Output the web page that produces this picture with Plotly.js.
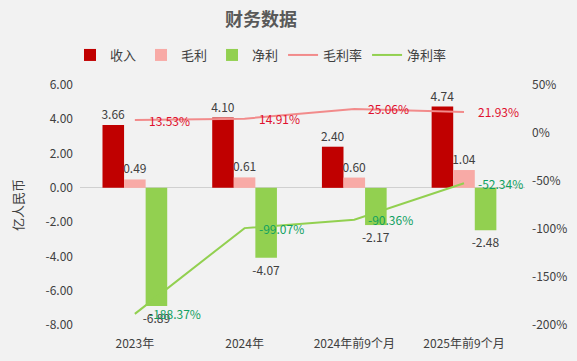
<!DOCTYPE html>
<html>
<head>
<meta charset="utf-8">
<script src="https://cdn.plot.ly/plotly-3.0.1.min.js"></script>
<style>
html,body{margin:0;padding:0;background:#f2f2f2;}
#chart{width:577px;height:361px;}
</style>
</head>
<body>
<div id="chart"></div>
<script>
const categories = ['2023年', '2024年', '2024年前9个月', '2025年前9个月'];
const revenue = [3.66, 4.10, 2.40, 4.74];
const grossProfit = [0.49, 0.61, 0.60, 1.04];
const netProfit = [-6.89, -4.07, -2.17, -2.48];
const grossMargin = [13.53, 14.91, 25.06, 21.93];
const netMargin = [-188.37, -99.07, -90.36, -52.34];
const leftTicks = [-8, -6, -4, -2, 0, 2, 4, 6];
const rightTicks = [-200, -150, -100, -50, 0, 50];

const FONT = '"Noto Sans CJK SC", "DejaVu Sans", sans-serif';
const fmt2 = v => v.toFixed(2);
const barText = {size: 12, color: '#404040', family: FONT};

const traces = [
  {type: 'bar', name: '收入', x: categories, y: revenue, marker: {color: '#c00000'},
   text: revenue.map(fmt2), textposition: 'outside', constraintext: 'none', textfont: barText, cliponaxis: false, hoverinfo: 'skip'},
  {type: 'bar', name: '毛利', x: categories, y: grossProfit, marker: {color: '#f8aaa6'},
   text: grossProfit.map(fmt2), textposition: 'outside', constraintext: 'none', textfont: barText, cliponaxis: false, hoverinfo: 'skip'},
  {type: 'bar', name: '净利', x: categories, y: netProfit, marker: {color: '#92d050'},
   text: netProfit.map(fmt2), textposition: 'outside', constraintext: 'none', textfont: barText, cliponaxis: false, hoverinfo: 'skip'},
  {type: 'scatter', mode: 'lines', name: '毛利率', x: categories, y: grossMargin, yaxis: 'y2',
   line: {color: '#f28b8b', width: 2}, cliponaxis: false, hoverinfo: 'skip'},
  {type: 'scatter', mode: 'lines', name: '净利率', x: categories, y: netMargin, yaxis: 'y2',
   line: {color: '#92d050', width: 2}, cliponaxis: false, hoverinfo: 'skip'}
];

const annotations = [];
categories.forEach((c, i) => {
  annotations.push({x: c, y: grossMargin[i], xref: 'x', yref: 'y2', text: grossMargin[i].toFixed(2) + '%',
    showarrow: false, xanchor: 'left', yanchor: 'middle', xshift: 12,
    font: {size: 12, color: '#e0102e', family: FONT}});
  annotations.push({x: c, y: netMargin[i], xref: 'x', yref: 'y2', text: netMargin[i].toFixed(2) + '%',
    showarrow: false, xanchor: 'left', yanchor: 'middle', xshift: 12,
    font: {size: 12, color: '#10a060', family: FONT}});
});

const layout = {
  width: 577, height: 361,
  paper_bgcolor: '#f2f2f2', plot_bgcolor: '#f2f2f2',
  font: {family: FONT, size: 12, color: '#404040'},
  margin: {l: 80, r: 52, t: 85, b: 36},
  title: {text: '<b>财务数据</b>', x: 261/577, xanchor: 'center', xref: 'container',
    y: 1 - 20/361, yanchor: 'middle', yref: 'container',
    font: {size: 18, color: '#595959', family: FONT}},
  showlegend: true,
  legend: {orientation: 'h', x: 261/577, xref: 'container', xanchor: 'center',
    y: 1 - 55/361, yref: 'container', yanchor: 'middle',
    font: {size: 13, color: '#404040', family: FONT}, bgcolor: 'rgba(0,0,0,0)',
    traceorder: 'normal', itemwidth: 30},
  barmode: 'group', bargap: 0.41, bargroupgap: 0,
  xaxis: {type: 'category', showgrid: false, zeroline: false, showline: false,
    ticks: '', tickfont: {size: 12, color: '#404040', family: FONT}, ticklabelstandoff: 10,
    fixedrange: true},
  yaxis: {range: [-8, 6], tickvals: leftTicks, ticktext: leftTicks.map(fmt2),
    showgrid: false, zeroline: true, zerolinecolor: '#d0d0d0', zerolinewidth: 1, showline: false,
    tickfont: {size: 12, color: '#404040', family: FONT}, ticklabelstandoff: 6,
    title: {text: '亿人民币', font: {size: 13, color: '#404040', family: FONT}, standoff: 18},
    fixedrange: true},
  yaxis2: {range: [-200, 50], tickvals: rightTicks, ticktext: rightTicks.map(v => v + '%'),
    overlaying: 'y', side: 'right', showgrid: false, zeroline: false, showline: false,
    tickfont: {size: 12, color: '#404040', family: FONT}, ticklabelstandoff: 6,
    fixedrange: true},
  annotations: annotations
};

Plotly.newPlot('chart', traces, layout, {displayModeBar: false, staticPlot: true});
</script>
</body>
</html>
